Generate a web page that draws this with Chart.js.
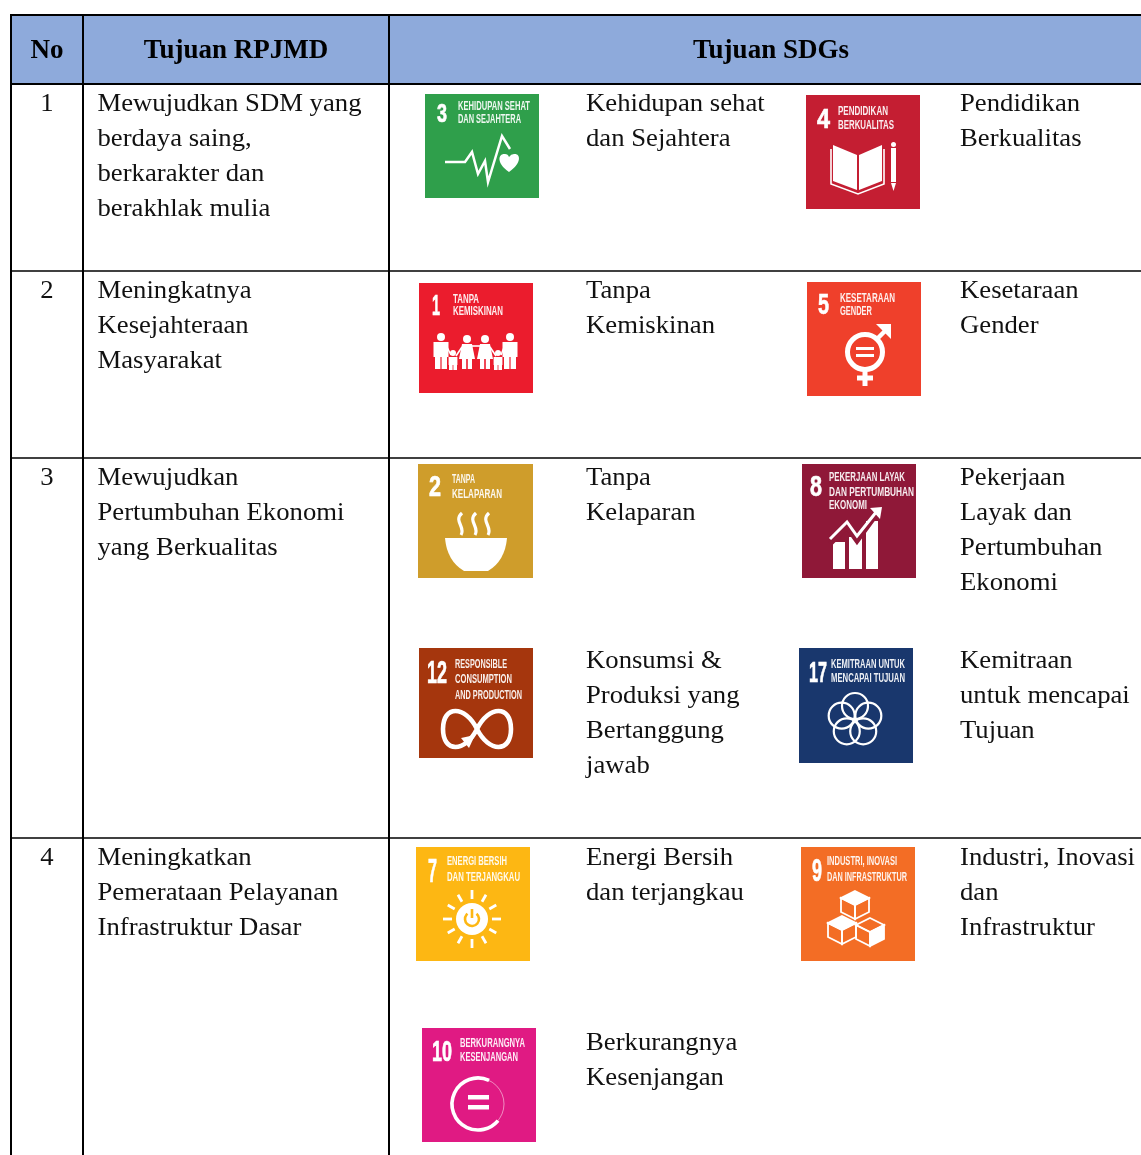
<!DOCTYPE html>
<html><head><meta charset="utf-8">
<style>html,body{margin:0;padding:0;background:#fff}canvas{display:block}</style>
<script src="https://cdn.jsdelivr.net/npm/chart.js@4"></script>
</head><body><canvas id="c" width="1141" height="1155"></canvas>
<script>
// ---- content ----
const headers = ['No','Tujuan RPJMD','Tujuan SDGs'];
const rowNumbers = ['1','2','3','4'];
const rpjmdGoals = [
 ['Mewujudkan SDM yang','berdaya saing,','berkarakter dan','berakhlak mulia'],
 ['Meningkatnya','Kesejahteraan','Masyarakat'],
 ['Mewujudkan','Pertumbuhan Ekonomi','yang Berkualitas'],
 ['Meningkatkan','Pemerataan Pelayanan','Infrastruktur Dasar']
];
const sdgNumbers = ['3','4','1','5','2','8','12','17','7','9','10'];
const sdgNames = [
 ['Kehidupan sehat','dan Sejahtera'],['Pendidikan','Berkualitas'],
 ['Tanpa','Kemiskinan'],['Kesetaraan','Gender'],
 ['Tanpa','Kelaparan'],['Pekerjaan','Layak dan','Pertumbuhan','Ekonomi'],
 ['Konsumsi &','Produksi yang','Bertanggung','jawab'],['Kemitraan','untuk mencapai','Tujuan'],
 ['Energi Bersih','dan terjangkau'],['Industri, Inovasi','dan','Infrastruktur'],
 ['Berkurangnya','Kesenjangan']
];
const sdgTitles = [
 ['KEHIDUPAN SEHAT','DAN SEJAHTERA'],['PENDIDIKAN','BERKUALITAS'],
 ['TANPA','KEMISKINAN'],['KESETARAAN','GENDER'],
 ['TANPA','KELAPARAN'],['PEKERJAAN LAYAK','DAN PERTUMBUHAN','EKONOMI'],
 ['RESPONSIBLE','CONSUMPTION','AND PRODUCTION'],['KEMITRAAN UNTUK','MENCAPAI TUJUAN'],
 ['ENERGI BERSIH','DAN TERJANGKAU'],['INDUSTRI, INOVASI','DAN INFRASTRUKTUR'],
 ['BERKURANGNYA','KESENJANGAN']
];
// ---- layout ----
const W=1141,H=1155;
const vLines=[11,83,389], hLines=[15,84,271,458,838];
const headerCells=[[11,83],[83,389],[389,1141]];
const headerCenters=[47,236,771];
const rowTextY=[110.7,297.7,484.7,864.7];
const tileBoxes=[[425,94,539,198],[806,95,920,209],[419,283,533,393],[807,282,921,396],[418,464,533,578],[802,464,916,578],[419,648,533,758],[799,648,913,763],[416,847,530,961],[801,847,915,961],[422,1028,536,1142]];
const tileColors=['#2F9F4B','#C41E32','#EB1C2D','#EF402B','#CF9D2B','#8F1838','#A5360D','#19376D','#FDB713','#F36D25','#E01A83'];
const nameX=[586,960,586,960,586,960,586,960,586,960,586];
const nameY=[110.7,110.7,297.7,297.7,484.7,484.7,667.7,667.7,864.7,864.7,1049.7];
// tile label layout: number left,width,baseline,height; title left, widths, baselines
const tileLabel=[
 [12,10,28,19,33,[72,63],[16,29]],[11,13,33,20,32,[50,56],[20,34]],
 [13,8,32,22,34,[26,50],[20,32]],[11,11,32,21,33,[55,32],[20,33]],
 [11,12,32,21,34,[23,50],[19,34]],[8,12,32,21,27,[76,85,38],[17,32,45]],
 [8,20,35,23,36,[52,57,67],[20,35,51]],[10,18,34,22,32,[74,74],[20,34]],
 [12,9,35,24,31,[60,73],[18,34]],[11,10,34,23,26,[70,80],[18,34]],
 [10,20,33,21,38,[65,58],[19,33]]
];
const bodyFont='"Liberation Serif"';
const bodyColor='#111';

const bar=(b,color)=>({type:'bar',order:2,data:[{x:(b[0]+b[2])/2,y:[b[1],b[3]]}],backgroundColor:color,borderColor:color,barThickness:b[2]-b[0],grouped:false,borderWidth:0,inflateAmount:0});
const line=(p,w)=>({type:'line',order:1,data:p,borderColor:'#000',borderWidth:w,pointRadius:0,tension:0});

const datasets=[
 ...headerCells.map(c=>bar([c[0],hLines[0],c[1],hLines[1]],'#8EAADB')),
 ...tileBoxes.map((b,i)=>bar(b,tileColors[i])),
 ...hLines.map((y,i)=>line([{x:10,y},{x:W,y}],i<2?2:1.6)),
 ...vLines.map(x=>line([{x,y:14},{x,y:H}],2))
];

function drawIcon(g,i){ // units: pixels inside a 114px tile
 const W_='#fff',c=tileColors[i];
 g.strokeStyle=W_;g.fillStyle=W_;g.lineCap='butt';g.lineJoin='miter';
 const poly=(p,close)=>{g.beginPath();p.forEach((q,k)=>k?g.lineTo(q[0],q[1]):g.moveTo(q[0],q[1]));if(close)g.closePath();};
 const circ=(x,y,r)=>{g.beginPath();g.arc(x,y,r,0,Math.PI*2);};
 switch(i){
 case 0:
  g.lineWidth=2.5;poly([[20,68],[40,68],[47,58],[53,80],[60,67],[63,88],[77,42],[85,55]]);g.stroke();
  g.beginPath();g.moveTo(84,78);g.bezierCurveTo(70,68,74,59,80,60);g.quadraticCurveTo(83,60,84,63);g.quadraticCurveTo(86,60,89,60);g.bezierCurveTo(95,59,98,68,84,78);g.fill();
  break;
 case 1:
  poly([[27,50],[51,60],[51,95],[27,86]],1);g.fill();
  poly([[53,60],[76,50],[76,86],[53,95]],1);g.fill();
  g.lineWidth=1.6;poly([[25,54],[25,89],[52,99],[78,89],[78,54]]);g.stroke();
  g.fillRect(85,53,5,34);circ(87.5,49.5,2.5);g.fill();poly([[85,88],[90,88],[87.5,96]],1);g.fill();
  break;
 case 2:{
  const man=(x,y)=>{circ(x,y,4);g.fill();g.fillRect(x-7.5,y+5,15,15);g.fillRect(x-6,y+20,5.4,12);g.fillRect(x+.6,y+20,5.4,12);};
  const woman=(x,y)=>{circ(x,y,4);g.fill();poly([[x-5,y+5],[x+5,y+5],[x+8,y+20],[x-8,y+20]],1);g.fill();g.fillRect(x-5,y+20,4.2,10);g.fillRect(x+.8,y+20,4.2,10);};
  const kid=(x,y)=>{circ(x,y,3);g.fill();g.fillRect(x-4.4,y+4,8.8,8);g.fillRect(x-4,y+12,3.6,5);g.fillRect(x+.4,y+12,3.6,5);};
  man(22,54);kid(34,70);woman(48,56);woman(66,56);kid(79,70);man(91,54);
  g.lineWidth=1.6;poly([[27,62],[32,72]]);g.stroke();poly([[37,73],[43,64]]);g.stroke();poly([[52,63],[62,63]]);g.stroke();poly([[71,64],[77,73]]);g.stroke();poly([[82,72],[86,62]]);g.stroke();
  break;}
 case 3:
  g.lineWidth=5;circ(58,70,17.5);g.stroke();
  g.lineWidth=3;poly([[49,66.5],[67,66.5]]);g.stroke();poly([[49,73.5],[67,73.5]]);g.stroke();
  g.lineWidth=4.5;poly([[70,57],[81,46]]);g.stroke();poly([[69,42],[84,42],[84,57]],1);g.fill();
  g.lineWidth=5;poly([[58,88],[58,104]]);g.stroke();poly([[50,96],[66,96]]);g.stroke();
  break;
 case 4:
  g.lineWidth=3.2;[41,55,68].forEach(x=>{g.beginPath();g.moveTo(x+3,49);g.bezierCurveTo(x-6,57,x+7,63,x+2,71);g.stroke();});
  g.beginPath();g.moveTo(27,74);g.lineTo(89,74);g.quadraticCurveTo(87,97,70,107);g.lineTo(46,107);g.quadraticCurveTo(29,97,27,74);g.fill();
  break;
 case 5:
  g.fillRect(31,78,12,27);g.fillRect(47,73,13,32);g.fillRect(64,57,12,48);
  g.strokeStyle=c;g.lineWidth=5;poly([[28,80],[45,63],[55,77],[74,51]]);g.stroke();
  g.strokeStyle=W_;g.lineWidth=3;poly([[28,75],[45,58],[55,72],[75,47]]);g.stroke();
  poly([[68,44],[80,43],[78,55]],1);g.fill();
  break;
 case 6:
  g.lineWidth=4.6;g.beginPath();
  g.moveTo(58,81);g.bezierCurveTo(46,57,24,57,24,81);g.bezierCurveTo(24,105,46,105,58,81);
  g.bezierCurveTo(70,57,92,57,92,81);g.bezierCurveTo(92,105,70,105,58,81);g.stroke();
  poly([[42,90],[56,87],[50,100]],1);g.fill();
  break;
 case 7:
  g.lineWidth=2.2;for(let k=0;k<5;k++){const a=-Math.PI/2+k*2*Math.PI/5;circ(56+14*Math.cos(a),72+14*Math.sin(a),13);g.stroke();}
  break;
 case 8:
  circ(56,72,16);g.fill();
  g.strokeStyle=c;g.lineWidth=2.6;g.beginPath();g.arc(56,72,7,-Math.PI/2+.7,-Math.PI/2-.7+2*Math.PI);g.stroke();
  poly([[56,62],[56,71]]);g.stroke();
  g.strokeStyle=W_;g.lineWidth=2.8;
  for(let k=0;k<12;k++){const a=k*Math.PI/6;const r1=20,r2=(k%3==0)?29:28;poly([[56+r1*Math.cos(a),72+r1*Math.sin(a)],[56+r2*Math.cos(a),72+r2*Math.sin(a)]]);g.stroke();}
  break;
 case 9:{
  const cube=(x,y,s,fillTop,fillRight)=>{
   const top=[[x,y-s],[x+s,y-s/2],[x,y],[x-s,y-s/2]],left=[[x-s,y-s/2],[x,y],[x,y+s],[x-s,y+s/2]],right=[[x+s,y-s/2],[x,y],[x,y+s],[x+s,y+s/2]];
   g.lineWidth=1.8;
   poly(top,1);if(fillTop)g.fill();g.stroke();
   poly(left,1);g.stroke();
   poly(right,1);if(fillRight)g.fill();g.stroke();};
  cube(54,58,14,true,false);cube(41,83,14,true,false);cube(69,85,14,false,true);
  break;}
 case 10:
  g.lineWidth=1;g.globalAlpha=.5;circ(56,76,26);g.stroke();g.globalAlpha=1;
  g.lineWidth=3.6;g.beginPath();g.arc(56,76,26,-Math.PI*.36,Math.PI*.22,true);g.stroke();
  g.fillRect(46,67,21,4.5);g.fillRect(46,77,21,4.5);
  break;
 }
}

const tableText={id:'tableText',afterDatasetsDraw(ch){
 const g=ch.ctx,X=ch.scales.x,Y=ch.scales.y;
 const body=(t,x,y)=>{g.save();g.translate(X.getPixelForValue(x),Y.getPixelForValue(y));g.scale(1.047,1);g.fillText(t,0,0);g.restore();};
 g.save();
 g.textBaseline='alphabetic';
 g.filter='blur(0.3px)';
 // headers
 g.fillStyle='#000';g.font='bold 27px '+bodyFont;g.textAlign='center';
 headers.forEach((h,i)=>g.fillText(h,X.getPixelForValue(headerCenters[i]),Y.getPixelForValue(58)));
 // body
 g.fillStyle=bodyColor;g.font='25.5px '+bodyFont;
 rowNumbers.forEach((n,i)=>body(n,47,rowTextY[i]));
 g.textAlign='left';
 rpjmdGoals.forEach((ls,i)=>ls.forEach((t,k)=>body(t,97.5,rowTextY[i]+k*35.2)));
 sdgNames.forEach((ls,i)=>ls.forEach((t,k)=>body(t,nameX[i],nameY[i]+k*35.2)));
 // tiles
 tileBoxes.forEach((b,i)=>{
  const x0=X.getPixelForValue(b[0]),y0=Y.getPixelForValue(b[1]);
  const L=tileLabel[i];
  g.save();g.translate(x0,y0);g.filter='blur(0.55px)';
  g.fillStyle='#fff';g.strokeStyle='#fff';g.lineWidth=.7;
  g.font='bold '+(L[3]*1.38)+'px "Liberation Sans"';
  g.fillText(sdgNumbers[i],L[0],L[2],L[1]);
  g.strokeText(sdgNumbers[i],L[0],L[2],L[1]);
  g.font='bold 13.5px "Liberation Sans Narrow","Liberation Sans"';
  g.globalAlpha=.92;
  sdgTitles[i].forEach((t,k)=>g.fillText(t,L[4],L[6][k],L[5][k]));
  g.globalAlpha=1;
  drawIcon(g,i);
  g.restore();
 });
 g.restore();
}};

new Chart(document.getElementById('c'),{
 data:{datasets},
 plugins:[tableText],
 options:{
  responsive:false,animation:false,devicePixelRatio:1,
  layout:{padding:0},
  plugins:{legend:{display:false},tooltip:{enabled:false}},
  events:[],
  scales:{
   x:{type:'linear',min:0,max:W,display:false,offset:false},
   y:{type:'linear',min:0,max:H,reverse:true,display:false}
  }
 }
});
</script></body></html>
